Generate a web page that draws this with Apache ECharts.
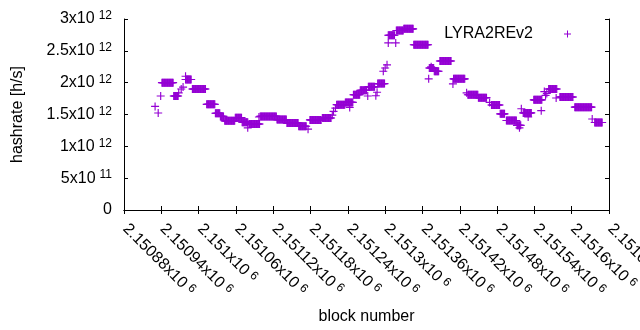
<!DOCTYPE html>
<html>
<head>
<meta charset="utf-8">
<script src="https://cdn.jsdelivr.net/npm/echarts@6/dist/echarts.min.js"></script>
<style>
html, body { margin: 0; padding: 0; background: #fff; }
#chart { width: 640px; height: 330px; }
</style>
</head>
<body>
<div id="chart"></div>
<script>
// plateaus: first block, last block, hashrate in 10^12 h/s
var runStart = [2150941, 2150960, 2150979, 2150990, 2151013, 2151027, 2151035, 2151042, 2151059, 2151070,
                2151081, 2151099, 2151126, 2151142, 2151161, 2151179, 2151199, 2151222, 2151236, 2151249,
                2151260, 2151273, 2151288, 2151305, 2151318, 2151330, 2151346, 2151371, 2151379, 2151388,
                2151410, 2151433, 2151450, 2151471, 2151485, 2151495, 2151512, 2151522, 2151539, 2151563,
                2151581, 2151605, 2151637];
var runEnd   = [2150959, 2150967, 2150988, 2151011, 2151026, 2151034, 2151040, 2151058, 2151069, 2151079,
                2151098, 2151125, 2151141, 2151160, 2151173, 2151197, 2151213, 2151235, 2151248, 2151259,
                2151270, 2151283, 2151299, 2151315, 2151329, 2151345, 2151369, 2151378, 2151386, 2151406,
                2151428, 2151449, 2151463, 2151484, 2151492, 2151511, 2151518, 2151535, 2151552, 2151576,
                2151602, 2151632, 2151649];
var runRate  = [2.00, 1.79, 2.05, 1.90, 1.66, 1.52, 1.47, 1.40, 1.45, 1.38,
                1.35, 1.47, 1.42, 1.365, 1.315, 1.415, 1.445, 1.655, 1.69, 1.81,
                1.88, 1.935, 1.985, 2.745, 2.82, 2.845, 2.595, 2.23, 2.18, 2.34,
                2.06, 1.81, 1.765, 1.65, 1.51, 1.405, 1.33, 1.525, 1.73, 1.90,
                1.775, 1.615, 1.375];

// lone points (outliers / transitions), 10^12 h/s
var ptBlock = [2150930, 2150935, 2150939, 2150968, 2150972, 2150975, 2150979, 2151079, 2151097, 2151176,
               2151215, 2151217, 2151220, 2151243, 2151272, 2151285, 2151287, 2151297, 2151300, 2151303,
               2151305, 2151317, 2151370, 2151374, 2151409, 2151431, 2151468, 2151516, 2151519, 2151530,
               2151551, 2151556, 2151558, 2151560, 2151575, 2151633];
var ptRate  = [1.627, 1.523, 1.79, 1.84, 1.90, 1.93, 2.10, 1.29, 1.46, 1.27,
               1.49, 1.55, 1.60, 1.61, 1.79, 1.795, 1.85, 2.18, 2.23, 2.28,
               2.625, 2.625, 2.06, 2.25, 1.98, 1.84, 1.69, 1.29, 1.59, 1.46,
               1.56, 1.86, 1.80, 1.83, 1.76, 1.43];

var xMin = 2150880, xMax = 2151660, xStep = 60;
var yMin = 0, yMax = 3e12, yStep = 5e11;
var seriesName = 'LYRA2REv2';

var FONT = 'Liberation Sans';
var plus = 'path://M3,0h1v3h3v1h-3v3h-1v-3h-3v-1h3z';

// one point per block inside a plateau
var data = [];
for (var i = 0; i < runStart.length; i++) {
    for (var b = runStart[i]; b <= runEnd[i]; b++) {
        data.push([b, runRate[i] * 1e12]);
    }
}
for (var j = 0; j < ptBlock.length; j++) {
    data.push([ptBlock[j], ptRate[j] * 1e12]);
}

function sci(v) {
    if (v === 0) return '{m|0}';
    var e = Math.floor(Math.log10(v) + 1e-9);
    var m = parseFloat((v / Math.pow(10, e)).toFixed(5));
    return '{m|' + m + 'x10}{s|' + e + '}';
}

var rich = {
    m: { fontSize: 16, fontFamily: FONT, color: '#000', lineHeight: 16 },
    s: { fontSize: 12, fontFamily: FONT, color: '#000', padding: [0, 0, 6, 4] }
};

var myChart = echarts.init(document.getElementById('chart'));
var option = {
    animation: false,
    backgroundColor: '#fff',
    grid: { left: 124, right: 31, top: 19, bottom: 120, containLabel: false, outerBoundsMode: 'none' },
    legend: {
        data: [seriesName],
        right: 64, top: 21,
        align: 'right',
        icon: plus,
        itemWidth: 7, itemHeight: 7,
        textStyle: { fontSize: 16, fontFamily: FONT, color: '#000', padding: [0, 26, 0, 0] }
    },
    xAxis: [{
        type: 'value', min: xMin, max: xMax, interval: xStep,
        name: 'block number', nameLocation: 'middle', nameGap: 99,
        nameTextStyle: { fontSize: 16, fontFamily: FONT, color: '#000' },
        axisLine: { show: true, lineStyle: { color: '#000', width: 1 } },
        axisTick: { show: true, inside: true, length: 4, lineStyle: { color: '#000' } },
        axisLabel: {
            show: true, rotate: -45, margin: 15, interval: 0, hideOverlap: false,
            padding: [0, 0, 0, 2],
            showMinLabel: true, showMaxLabel: true,
            formatter: function (v) {
                return '{m|' + parseFloat((v / 1e6).toFixed(5)) + 'x10}{s|6}';
            },
            rich: rich
        },
        splitLine: { show: false }
    }, {
        type: 'value', position: 'top', min: xMin, max: xMax, interval: xStep,
        axisLine: { show: true, lineStyle: { color: '#000', width: 1 } },
        axisTick: { show: true, inside: true, length: 4, lineStyle: { color: '#000' } },
        axisLabel: { show: false },
        splitLine: { show: false }
    }],
    yAxis: [{
        type: 'value', min: yMin, max: yMax, interval: yStep,
        name: 'hashrate [h/s]', nameLocation: 'middle', nameGap: 98,
        nameTextStyle: { fontSize: 16, fontFamily: FONT, color: '#000' },
        axisLine: { show: true, lineStyle: { color: '#000', width: 1 } },
        axisTick: { show: true, inside: true, length: 4, lineStyle: { color: '#000' } },
        axisLabel: { margin: 12, formatter: sci, rich: rich },
        splitLine: { show: false }
    }, {
        type: 'value', position: 'right', min: yMin, max: yMax, interval: yStep,
        axisLine: { show: true, lineStyle: { color: '#000', width: 1 } },
        axisTick: { show: true, inside: true, length: 4, lineStyle: { color: '#000' } },
        axisLabel: { show: false },
        splitLine: { show: false }
    }],
    series: [{
        name: seriesName,
        type: 'scatter',
        symbol: plus,
        symbolSize: 8,
        itemStyle: { color: '#9400d3', opacity: 1 },
        data: data
    }]
};
myChart.setOption(option);
</script>
</body>
</html>
